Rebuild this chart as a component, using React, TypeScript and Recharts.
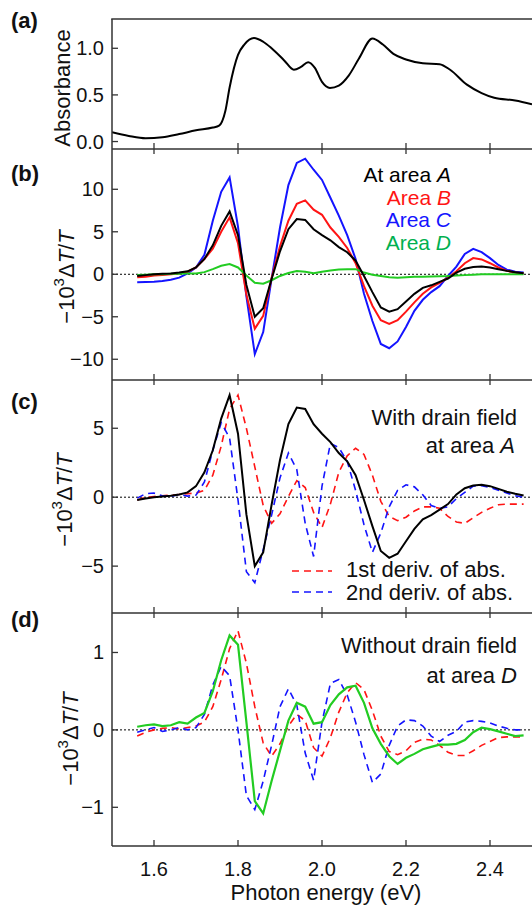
import React from 'react';
import { LineChart, Line, XAxis, YAxis, ReferenceLine } from 'recharts';

const FONT = '"Liberation Sans", Arial, Helvetica, sans-serif';
const W = 532;
const PLOT_LEFT = 112;
const PAD = 10;
const AXIS = '#333';
const RED = '#ff1414';
const BLUE = '#1414ff';
const GREEN = '#22cc22';
const GREEN_TEXT = '#00b050';

// (a) absorbance spectrum
const absEnergy = [1.5, 1.54, 1.58, 1.62, 1.66, 1.7, 1.74, 1.755, 1.77, 1.78, 1.8, 1.815, 1.838, 1.86, 1.88, 1.91, 1.933, 1.95, 1.967, 1.983, 2.0, 2.019, 2.04, 2.064, 2.088, 2.12, 2.145, 2.17, 2.2, 2.24, 2.28, 2.305, 2.345, 2.38, 2.41, 2.46, 2.5];
const absorbance = [0.1, 0.06, 0.035, 0.045, 0.08, 0.12, 0.15, 0.17, 0.33, 0.58, 0.93, 1.04, 1.11, 1.07, 1.0, 0.87, 0.77, 0.8, 0.85, 0.79, 0.64, 0.575, 0.6, 0.71, 0.89, 1.105, 1.04, 0.94, 0.88, 0.84, 0.83, 0.77, 0.61, 0.52, 0.47, 0.44, 0.4];

// photon energy grid for (b)-(d), eV
const energy = [1.56, 1.58, 1.6, 1.62, 1.64, 1.66, 1.68, 1.7, 1.72, 1.74, 1.76, 1.78, 1.8, 1.82, 1.84, 1.86, 1.88, 1.9, 1.92, 1.94, 1.96, 1.98, 2.0, 2.02, 2.04, 2.06, 2.08, 2.1, 2.12, 2.14, 2.16, 2.18, 2.2, 2.22, 2.24, 2.26, 2.28, 2.3, 2.32, 2.34, 2.36, 2.38, 2.4, 2.42, 2.44, 2.46, 2.48];

// (b) -10^3 dT/T at each area (with drain field)
const areaA = [-0.2, -0.1, 0.0, 0.05, 0.1, 0.2, 0.35, 0.8, 1.8, 3.4, 5.7, 7.4, 4.6, -1.25, -5.0, -4.0, -0.55, 2.7, 5.3, 6.5, 6.4, 5.3, 4.6, 4.0, 3.2, 2.6, 1.6, -0.2, -2.1, -3.9, -4.4, -4.1, -3.2, -2.3, -1.6, -1.3, -0.9, -0.5, 0.2, 0.65, 0.85, 0.9, 0.8, 0.6, 0.4, 0.25, 0.12];
const areaB = [-0.35, -0.3, -0.15, -0.1, 0.0, 0.1, 0.3, 0.8, 1.8, 3.0, 5.0, 6.7, 3.65, -2.4, -6.4, -4.9, -0.45, 3.3, 6.3, 8.3, 8.7, 7.6, 7.0, 5.5, 4.4, 3.1, 1.3, -1.4, -3.7, -5.4, -5.85, -5.4, -4.4, -3.3, -2.3, -1.55, -1.0, -0.4, 0.35, 1.3, 1.9, 1.75, 1.3, 0.8, 0.4, 0.2, 0.12];
const areaC = [-0.94, -0.9, -0.87, -0.8, -0.65, -0.4, 0.1, 0.8, 2.3, 6.3, 9.7, 11.4, 5.6, -2.6, -9.4, -6.8, -0.55, 5.5, 10.5, 13.1, 13.6, 12.3, 11.1, 9.0, 6.9, 4.6, 1.8, -2.3, -5.5, -8.2, -8.7, -7.9, -6.2, -4.3, -3.0, -2.1, -1.4, -0.2, 0.9, 2.4, 3.0, 2.6, 1.9, 1.1, 0.55, 0.3, 0.2];
const areaD = [-0.08, -0.05, 0.0, 0.0, 0.05, 0.05, 0.1, 0.1, 0.25, 0.6, 1.0, 1.2, 0.8, -0.15, -1.0, -1.1, -0.7, -0.2, 0.15, 0.38, 0.3, 0.12, 0.3, 0.45, 0.55, 0.6, 0.6, 0.2, -0.05, -0.2, -0.35, -0.4, -0.35, -0.3, -0.28, -0.25, -0.22, -0.2, -0.15, -0.1, -0.05, 0.0, 0.0, 0.0, 0.0, 0.0, 0.0];

// (c) derivatives of absorbance, scaled to area A
const deriv1C = [-0.2, 0.0, 0.05, 0.1, 0.15, 0.2, 0.25, 0.3, 0.5, 1.6, 3.7, 6.4, 7.4, 5.0, 2.2, -0.6, -1.9, -1.2, 0.05, 1.2, 0.7, -1.1, -2.2, -0.5, 1.8, 3.0, 3.55, 3.1, 1.6, -0.3, -1.4, -1.7, -1.45, -1.0, -0.7, -0.7, -0.8, -1.4, -1.8, -1.9, -1.5, -1.1, -0.8, -0.55, -0.5, -0.5, -0.5];
const deriv2C = [-0.07, 0.25, 0.3, 0.1, 0.05, 0.2, 0.08, 0.15, 1.1, 3.4, 5.4, 4.3, -0.2, -5.4, -6.2, -3.8, -1.3, 1.4, 3.2, 2.0, -1.9, -4.3, 0.8, 3.9, 3.6, 2.6, 0.5, -2.0, -4.0, -2.6, -0.7, 0.5, 0.9, 0.75, 0.17, -0.6, -0.8, -0.7, -0.1, 0.35, 0.8, 0.83, 0.7, 0.5, 0.3, 0.1, 0.0];

// (d) without drain field, area D
const noField = [0.04, 0.06, 0.07, 0.05, 0.06, 0.1, 0.08, 0.16, 0.22, 0.5, 0.9, 1.22, 1.1, 0.1, -0.92, -1.08, -0.66, -0.27, 0.12, 0.35, 0.3, 0.08, 0.1, 0.32, 0.46, 0.55, 0.57, 0.35, 0.02, -0.18, -0.34, -0.44, -0.36, -0.31, -0.25, -0.22, -0.19, -0.19, -0.18, -0.13, -0.03, 0.03, 0.01, -0.02, -0.05, -0.08, -0.07];
const deriv1D = [-0.08, -0.03, 0.0, 0.02, 0.03, 0.01, 0.03, 0.05, 0.1, 0.3, 0.65, 1.05, 1.28, 0.86, 0.3, -0.17, -0.34, -0.18, 0.05, 0.2, 0.12, -0.23, -0.34, -0.1, 0.23, 0.48, 0.61, 0.52, 0.25, -0.08, -0.28, -0.32, -0.27, -0.16, -0.12, -0.13, -0.2, -0.29, -0.33, -0.33, -0.27, -0.2, -0.15, -0.1, -0.09, -0.09, -0.09];
const deriv2D = [-0.03, 0.0, 0.03, -0.02, 0.0, 0.03, 0.0, 0.03, 0.2, 0.58, 0.82, 0.7, 0.0, -0.85, -1.03, -0.66, -0.2, 0.3, 0.53, 0.32, -0.3, -0.65, 0.1, 0.6, 0.65, 0.45, 0.1, -0.32, -0.68, -0.57, -0.2, 0.05, 0.13, 0.12, 0.05, -0.08, -0.15, -0.07, -0.02, 0.1, 0.12, 0.11, 0.09, 0.05, 0.02, 0.0, 0.0];

const xTicks = [1.6, 1.8, 2.0, 2.2, 2.4];
const absTicks = [0, 0.5, 1.0];
const bTicks = [-10, -5, 0, 5, 10];
const cTicks = [-5, 0, 5];
const dTicks = [-1, 0, 1];

const absData = absEnergy.map((e, i) => ({ e, abs: absorbance[i] }));
const specData = energy.map((e, i) => ({
  e,
  A: areaA[i],
  B: areaB[i],
  C: areaC[i],
  D: areaD[i],
  d1c: deriv1C[i],
  d2c: deriv2C[i],
  nf: noField[i],
  d1d: deriv1D[i],
  d2d: deriv2D[i],
}));

const minus = (v: number) => (v < 0 ? '\u2212' + Math.abs(v) : String(v));

const xTick = (plotTop: number, plotBottom: number, withTop: boolean, withLabel: boolean) => (p: any) => (
  <g>
    <line x1={p.x} x2={p.x} y1={plotBottom} y2={plotBottom - 6} stroke={AXIS} strokeWidth={1.3} />
    {withTop && <line x1={p.x} x2={p.x} y1={plotTop} y2={plotTop + 5} stroke={AXIS} strokeWidth={1.3} />}
    {withLabel && (
      <text x={p.x} y={plotBottom + 23} dy="0.35em" textAnchor="middle" fontSize={20} fontFamily={FONT} fill="#111">
        {Number(p.payload.value).toFixed(1)}
      </text>
    )}
  </g>
);

const yTick = (fmt: (v: number) => string) => (p: any) => (
  <g>
    <line x1={PLOT_LEFT} x2={PLOT_LEFT + 6} y1={p.y} y2={p.y} stroke={AXIS} strokeWidth={1.3} />
    <text x={PLOT_LEFT - 8} y={p.y} dy="0.35em" textAnchor="end" fontSize={20} fontFamily={FONT} fill="#111">
      {fmt(p.payload.value)}
    </text>
  </g>
);

interface PanelProps {
  top: number; // plot top, page px
  bottom: number; // plot bottom, page px
  data: any[];
  domain: [number, number];
  ticks: number[];
  fmt: (v: number) => string;
  withTop: boolean;
  withLabel?: boolean;
  children: React.ReactNode;
}

const Panel: React.FC<PanelProps> = ({ top, bottom, data, domain, ticks, fmt, withTop, withLabel = false, children }) => {
  // an axis of zero height is not drawn, so the hidden-label axes get 1px
  const xAxisH = withLabel ? 915 - bottom : 1;
  const marginBottom = withLabel ? 0 : PAD - 1;
  const height = bottom - top + PAD + xAxisH + marginBottom;
  const plotTop = PAD;
  const plotBottom = PAD + bottom - top;
  return (
    <div style={{ position: 'absolute', left: 0, top: top - PAD }}>
      <LineChart width={W} height={height} data={data} margin={{ top: PAD, right: 0, bottom: marginBottom, left: 0 }}>
        <XAxis
          dataKey="e"
          type="number"
          domain={[1.5, 2.5]}
          allowDataOverflow
          ticks={xTicks}
          interval={0}
          height={xAxisH}
          axisLine={{ stroke: AXIS, strokeWidth: 1.5 }}
          tickLine={false}
          tick={xTick(plotTop, plotBottom, withTop, withLabel)}
        />
        <YAxis
          type="number"
          domain={domain}
          allowDataOverflow
          ticks={ticks}
          interval={0}
          width={PLOT_LEFT}
          axisLine={{ stroke: AXIS, strokeWidth: 1.5 }}
          tickLine={false}
          tick={yTick(fmt)}
        />
        {children}
      </LineChart>
    </div>
  );
};

const zeroLine = <ReferenceLine y={0} stroke="#000" strokeWidth={1} strokeDasharray="2 2" />;

const DTLabel: React.FC<{ x: number; y: number }> = ({ x, y }) => (
  <text transform={`translate(${x},${y}) rotate(-90)`} textAnchor="middle" dominantBaseline="central" fontSize={22} fontFamily={FONT} fill="#111">
    {'\u221210'}
    <tspan dy={-8} fontSize={15}>3</tspan>
    <tspan dy={8}>{'\u0394'}</tspan>
    <tspan fontStyle="italic">T</tspan>/<tspan fontStyle="italic">T</tspan>
  </text>
);

export default function App() {
  const lbl = { fontSize: 22, fontFamily: FONT };
  return (
    <div style={{ position: 'absolute', left: 0, top: 0, width: W, height: 915, background: '#fff', overflow: 'hidden' }}>
      <Panel top={19} bottom={149} data={absData} domain={[-0.08, 1.314]} ticks={absTicks} fmt={(v) => v.toFixed(1)} withTop={false}>
        <Line dataKey="abs" type="monotone" stroke="#000" strokeWidth={2} dot={false} isAnimationActive={false} />
      </Panel>
      <Panel top={149} bottom={380} data={specData} domain={[-12.44, 14.74]} ticks={bTicks} fmt={minus} withTop>
        {zeroLine}
        <Line dataKey="C" type="linear" stroke={BLUE} strokeWidth={2} dot={false} isAnimationActive={false} />
        <Line dataKey="B" type="linear" stroke={RED} strokeWidth={2} dot={false} isAnimationActive={false} />
        <Line dataKey="D" type="linear" stroke={GREEN} strokeWidth={2} dot={false} isAnimationActive={false} />
        <Line dataKey="A" type="linear" stroke="#000" strokeWidth={2} dot={false} isAnimationActive={false} />
      </Panel>
      <Panel top={380} bottom={613} data={specData} domain={[-8.4, 8.5]} ticks={cTicks} fmt={minus} withTop>
        {zeroLine}
        <Line dataKey="d1c" type="linear" stroke={RED} strokeWidth={1.6} strokeDasharray="7 5" dot={false} isAnimationActive={false} />
        <Line dataKey="d2c" type="linear" stroke={BLUE} strokeWidth={1.6} strokeDasharray="7 5" dot={false} isAnimationActive={false} />
        <Line dataKey="A" type="linear" stroke="#000" strokeWidth={2} dot={false} isAnimationActive={false} />
      </Panel>
      <Panel top={613} bottom={846} data={specData} domain={[-1.5, 1.51]} ticks={dTicks} fmt={minus} withTop withLabel>
        {zeroLine}
        <Line dataKey="d1d" type="linear" stroke={RED} strokeWidth={1.6} strokeDasharray="7 5" dot={false} isAnimationActive={false} />
        <Line dataKey="d2d" type="linear" stroke={BLUE} strokeWidth={1.6} strokeDasharray="7 5" dot={false} isAnimationActive={false} />
        <Line dataKey="nf" type="linear" stroke={GREEN} strokeWidth={2.2} dot={false} isAnimationActive={false} />
      </Panel>

      <svg width={W} height={915} style={{ position: 'absolute', left: 0, top: 0, pointerEvents: 'none' }}>
        {/* top edge of the frame of (a) */}
        <line x1={PLOT_LEFT - 0.75} x2={W} y1={19} y2={19} stroke={AXIS} strokeWidth={1.5} />

        <g fontFamily={FONT} fontWeight="bold" fontSize={22} fill="#111">
          <text x={11} y={28}>(a)</text>
          <text x={11} y={181}>(b)</text>
          <text x={11} y={409}>(c)</text>
          <text x={11} y={627}>(d)</text>
        </g>

        <text transform="translate(62,88) rotate(-90)" textAnchor="middle" dominantBaseline="central" fontSize={22} fontFamily={FONT} fill="#111">
          Absorbance
        </text>
        <DTLabel x={66} y={277} />
        <DTLabel x={64} y={500} />
        <DTLabel x={70} y={739} />

        <g fontSize={21} fontFamily={FONT} textAnchor="end">
          <text x={451} y={182} fill="#000">At area <tspan fontStyle="italic">A</tspan></text>
          <text x={451} y={204.5} fill={RED}>Area <tspan fontStyle="italic">B</tspan></text>
          <text x={451} y={227} fill={BLUE}>Area <tspan fontStyle="italic">C</tspan></text>
          <text x={451} y={249.5} fill={GREEN_TEXT}>Area <tspan fontStyle="italic">D</tspan></text>
        </g>

        <g {...lbl} textAnchor="end" fill="#111">
          <text x={517} y={425}>With drain field</text>
          <text x={515} y={453}>at area <tspan fontStyle="italic">A</tspan></text>
          <text x={517} y={653}>Without drain field</text>
          <text x={517} y={683}>at area <tspan fontStyle="italic">D</tspan></text>
        </g>

        <line x1={292} x2={332} y1={571} y2={571} stroke={RED} strokeWidth={1.6} strokeDasharray="7 5" />
        <line x1={292} x2={332} y1={592} y2={592} stroke={BLUE} strokeWidth={1.6} strokeDasharray="7 5" />
        <g {...lbl} fill="#111">
          <text x={346} y={577}>1st deriv. of abs.</text>
          <text x={346} y={600}>2nd deriv. of abs.</text>
        </g>

        <text x={326} y={900} textAnchor="middle" fontSize={22} fontFamily={FONT} fill="#111">
          Photon energy (eV)
        </text>
      </svg>
    </div>
  );
}
